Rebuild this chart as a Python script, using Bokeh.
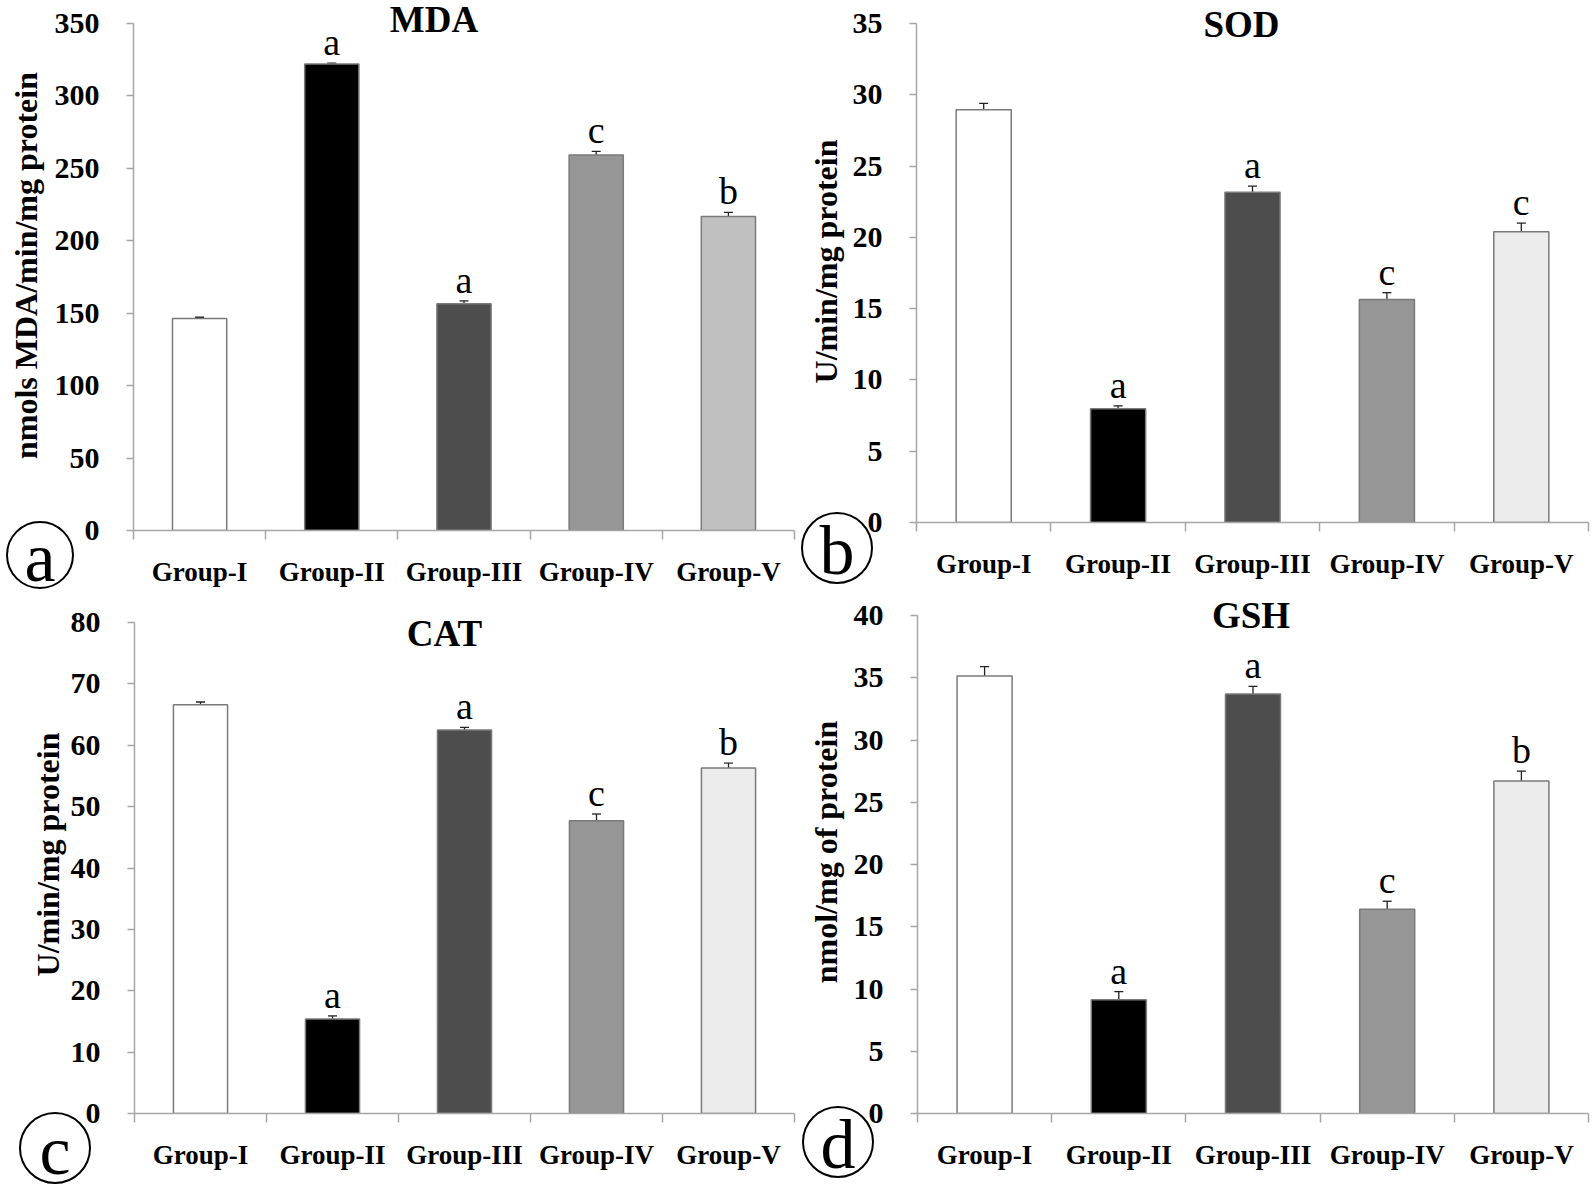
import numpy as np
from bokeh.plotting import figure
from bokeh.models import ColumnDataSource, Whisker, TeeHead, FixedTicker, Label, Range1d, Div
from bokeh.layouts import column, row
from bokeh.embed import file_html
from bokeh.resources import INLINE
from bokeh.core.properties import value

# ---------------- data ----------------
groups = ["Group-I", "Group-II", "Group-III", "Group-IV", "Group-V"]

mda_mean = [146.4, 322.0, 156.5, 259.3, 216.8]
mda_err = [0.8, 0.6, 2.0, 2.4, 2.8]
mda_sig = ["", "a", "a", "c", "b"]

sod_mean = [28.95, 7.98, 23.17, 15.65, 20.4]
sod_err = [0.45, 0.2, 0.43, 0.47, 0.6]
sod_sig = ["", "a", "a", "c", "c"]

cat_mean = [66.6, 15.4, 62.5, 47.7, 56.3]
cat_err = [0.45, 0.5, 0.4, 1.1, 0.8]
cat_sig = ["", "a", "a", "c", "b"]

gsh_mean = [35.15, 9.14, 33.7, 16.4, 26.7]
gsh_err = [0.75, 0.65, 0.6, 0.65, 0.8]
gsh_sig = ["", "a", "a", "c", "b"]

mda_ticks = list(range(0, 351, 50))
sod_ticks = list(range(0, 36, 5))
cat_ticks = list(range(0, 81, 10))
gsh_ticks = list(range(0, 41, 5))

# ---------------- styles ----------------
FONT = "Liberation Serif"
AXIS_GRAY = "#a6a6a6"
colors_mda = ["#ffffff", "#000000", "#4d4d4d", "#969696", "#c0c0c0"]
colors_other = ["#ffffff", "#000000", "#4d4d4d", "#969696", "#ececec"]


def panel(title, ylabel, mean, err, sig, ticks, colors, W, H, borders,
          data_px, frame_px, title_pos, label_standoff):
    """borders = (left, right, bottom); frame top sits at the canvas top.
    data_px: pixel span of the tick range, frame_px: full frame height."""
    bl, br, bb = borders
    xs = list(range(len(groups)))
    src = ColumnDataSource(dict(
        x=xs, top=mean,
        up=[m + e for m, e in zip(mean, err)],
        lo=[m - e for m, e in zip(mean, err)],
        sig=sig, color=colors))
    ymax = ticks[-1]
    p = figure(width=W, height=H, title=None,
               x_range=Range1d(-0.5, len(groups) - 0.5),
               y_range=Range1d(ticks[0], ymax * frame_px / data_px),
               output_backend="svg", toolbar_location=None,
               min_border_left=bl, min_border_right=br,
               min_border_top=0, min_border_bottom=bb)
    p.outline_line_color = None
    p.xgrid.visible = False
    p.ygrid.visible = False
    p.background_fill_color = None
    p.border_fill_color = None

    p.vbar(x="x", top="top", bottom=0, width=0.41, fill_color="color",
           line_color="#7a7a7a", line_width=1.5, source=src)
    head = dict(size=9, line_color="#222222", line_width=1.3)
    p.add_layout(Whisker(base="x", upper="up", lower="lo", source=src,
                         line_color="#222222", line_width=1.3,
                         upper_head=TeeHead(**head), lower_head=TeeHead(**head)))
    p.text(x="x", y="up", text="sig", source=src, text_align="center",
           text_baseline="bottom", text_font=value(FONT),
           text_font_size="38px", text_color="black")

    # y axis
    ya = p.yaxis[0]
    ya.ticker = FixedTicker(ticks=ticks)
    ya.bounds = (ticks[0], ymax)
    ya.axis_line_color = AXIS_GRAY
    ya.axis_line_width = 1.5
    ya.major_tick_line_color = AXIS_GRAY
    ya.major_tick_line_width = 1.5
    ya.major_tick_out = 7
    ya.major_tick_in = 0
    ya.minor_tick_line_color = None
    ya.major_label_text_font = FONT
    ya.major_label_text_font_style = "bold"
    ya.major_label_text_font_size = "30px"
    ya.major_label_text_color = "black"
    ya.major_label_standoff = 27
    ya.axis_label = ylabel
    ya.axis_label_text_font = FONT
    ya.axis_label_text_font_style = "bold"
    ya.axis_label_text_font_size = "32px"
    ya.axis_label_text_color = "black"
    ya.axis_label_standoff = label_standoff

    # x axis
    xa = p.xaxis[0]
    xa.ticker = FixedTicker(ticks=xs, minor_ticks=[i - 0.5 for i in range(len(groups) + 1)])
    xa.axis_line_color = AXIS_GRAY
    xa.axis_line_width = 1.5
    xa.major_tick_out = 0
    xa.major_tick_in = 0
    xa.major_tick_line_color = None
    xa.minor_tick_out = 9
    xa.minor_tick_in = 0
    xa.minor_tick_line_color = AXIS_GRAY
    xa.minor_tick_line_width = 1.5
    xa.major_label_overrides = {i: g for i, g in enumerate(groups)}
    xa.major_label_text_font = FONT
    xa.major_label_text_font_style = "bold"
    xa.major_label_text_font_size = "27px"
    xa.major_label_text_color = "black"
    xa.major_label_standoff = 17

    # title, placed inside the (extended) frame
    p.add_layout(Label(x=(len(groups) - 1) / 2, y=ymax, x_offset=title_pos[0],
                       y_offset=title_pos[1], text=title, text_font=FONT,
                       text_font_style="bold", text_font_size="37px",
                       text_color="black", text_align="center",
                       text_baseline="middle"))
    return p


pa = panel("MDA", "nmols MDA/min/mg protein", mda_mean, mda_err, mda_sig, mda_ticks,
           colors_mda, 799, 595, (133, 5, 65), 507, 530, (-30, 4), 8)
pc = panel("CAT", "U/min/mg protein", cat_mean, cat_err, cat_sig, cat_ticks,
           colors_other, 799, 590, (134, 5, 72), 491, 518, (-20, -11), 2)
pb = panel("SOD", "U/min/mg protein", sod_mean, sod_err, sod_sig, sod_ticks,
           colors_other, 794, 590, (117, 5, 68), 499, 522, (-11, -1), 6)
pd = panel("GSH", "nmol/mg of protein", gsh_mean, gsh_err, gsh_sig, gsh_ticks,
           colors_other, 794, 595, (118, 5, 72), 498, 523, (-2, 0), 7)

# circled panel letters (page-level decoration)
circles = [("a", 40, 555, 34), ("b", 837, 548, 36), ("c", 55, 1148, 36), ("d", 838, 1142, 36)]
html = ""
for letter, cx, cy, r in circles:
    html += (
        f'<div style="position:absolute;left:{cx - r}px;top:{cy - r}px;'
        f'width:{2 * r}px;height:{2 * r}px;box-sizing:border-box;'
        f'border:2px solid #000;border-radius:50%;display:flex;'
        f'align-items:center;justify-content:center;padding-top:6px;'
        f"font-family:'Liberation Serif';font-size:70px;line-height:1;"
        f'color:#000;z-index:20;">{letter}</div>'
    )
overlay = Div(text=html, width=1593, height=0, margin=0,
              styles={"overflow": "visible", "position": "relative", "z-index": "20"})

left_col = column(column(pa, margin=0), column(pc, margin=0))
right_col = column(column(pb, margin=0), column(pd, margin=0))
layout = column(overlay, row(left_col, right_col))
open("out.html", "w").write(file_html(layout, INLINE))
